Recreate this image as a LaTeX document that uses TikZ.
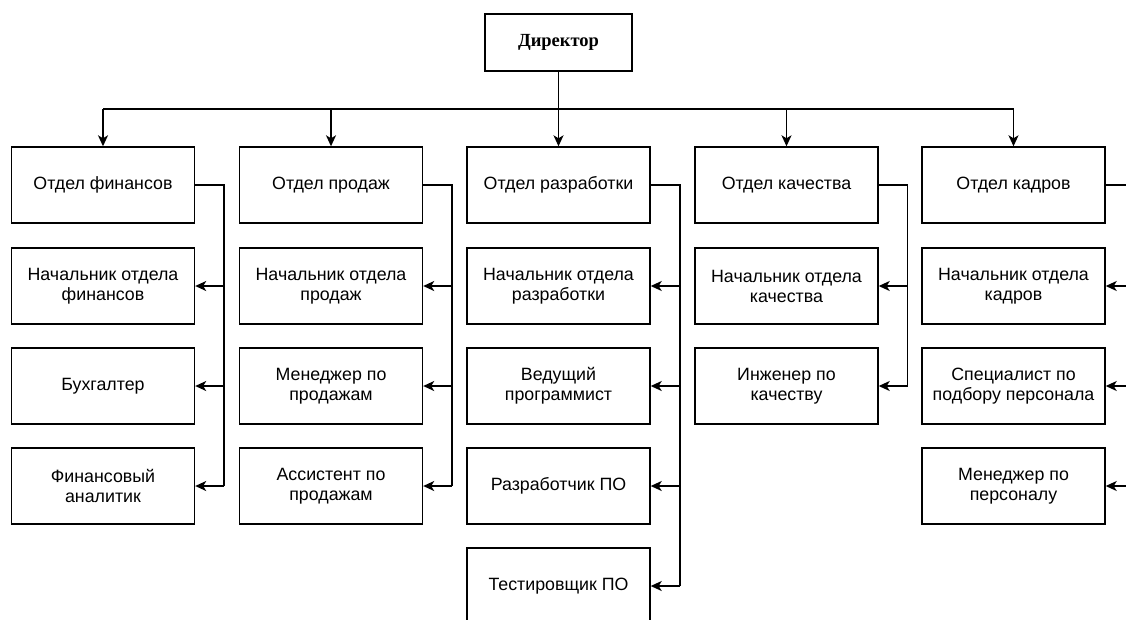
\documentclass[tikz,border=0pt]{standalone}
\usepackage{fontspec}
\setmainfont{Liberation Sans}
\newfontfamily\headfont{Liberation Serif}
\usetikzlibrary{arrows.meta}
\tikzset{
  box/.style={draw, line width=1.4pt, rectangle, minimum width=183pt, minimum height=76pt,
    align=center, font=\fontsize{17.8}{20}\selectfont, inner sep=2pt},
  headbox/.style={draw, line width=1.4pt, rectangle, minimum width=147pt, minimum height=57pt,
    font=\headfont\bfseries\fontsize{18.5}{20}\selectfont},
  link/.style={line width=1.5pt},
  arr/.style={line width=1.5pt, -{Stealth[length=11pt,width=10pt,inset=3pt]}},
}
\begin{document}
\begin{tikzpicture}[x=1pt,y=-1pt]
\useasboundingbox (0,0) rectangle (1126,619);
\clip (0,0) rectangle (1126,619);

\node[headbox] (dir) at (558.5,42.5) {Директор};
\coordinate (bus) at (558.5,109);

% departments
\node[box] (fin) at (103,185) {Отдел финансов};
\node[box] (sal) at (331,185) {Отдел продаж};
\node[box] (dev) at (558.5,185) {Отдел разработки};
\node[box] (qua) at (786.5,185) {Отдел качества};
\node[box] (hr)  at (1013.5,185) {Отдел кадров};

% finance
\node[box] (fin1) at (103,286) {Начальник отдела\\финансов};
\node[box] (fin2) at (103,386) {Бухгалтер};
\node[box] (fin3) at (103,486) {Финансовый\\аналитик};
% sales
\node[box] (sal1) at (331,286) {Начальник отдела\\продаж};
\node[box] (sal2) at (331,386) {Менеджер по\\продажам};
\node[box] (sal3) at (331,486) {Ассистент по\\продажам};
% development
\node[box] (dev1) at (558.5,286) {Начальник отдела\\разработки};
\node[box] (dev2) at (558.5,386) {Ведущий\\программист};
\node[box] (dev3) at (558.5,486) {Разработчик ПО};
\node[box] (dev4) at (558.5,586) {Тестировщик ПО};
% quality
\node[box] (qua1) at (786.5,286) {Начальник отдела\\качества};
\node[box] (qua2) at (786.5,386) {Инженер по\\качеству};
% personnel
\node[box] (hr1) at (1013.5,286) {Начальник отдела\\кадров};
\node[box] (hr2) at (1013.5,386) {Специалист по\\подбору персонала};
\node[box] (hr3) at (1013.5,486) {Менеджер по\\персоналу};

% director to departments
\draw[link] (dir.south) -- (bus);
\draw[link] (fin.north |- bus) -- (hr.north |- bus);
\foreach \d in {fin,sal,dev,qua,hr}
  \draw[arr] (\d.north |- bus) -- (\d.north);

% department spines
\coordinate (finx) at (224,0);
\coordinate (salx) at (452,0);
\coordinate (devx) at (680,0);
\coordinate (quax) at (907.5,0);
\coordinate (hrx)  at (1135,0);

\draw[link] (fin.east) -| (finx |- fin3.east);
\draw[link] (sal.east) -| (salx |- sal3.east);
\draw[link] (dev.east) -| (devx |- dev4.east);
\draw[link] (qua.east) -| (quax |- qua2.east);
\draw[link] (hr.east)  -| (hrx |- hr3.east);

\foreach \n in {fin1,fin2,fin3} \draw[arr] (finx |- \n.east) -- (\n.east);
\foreach \n in {sal1,sal2,sal3} \draw[arr] (salx |- \n.east) -- (\n.east);
\foreach \n in {dev1,dev2,dev3,dev4} \draw[arr] (devx |- \n.east) -- (\n.east);
\foreach \n in {qua1,qua2} \draw[arr] (quax |- \n.east) -- (\n.east);
\foreach \n in {hr1,hr2,hr3} \draw[arr] (hrx |- \n.east) -- (\n.east);
\end{tikzpicture}
\end{document}
